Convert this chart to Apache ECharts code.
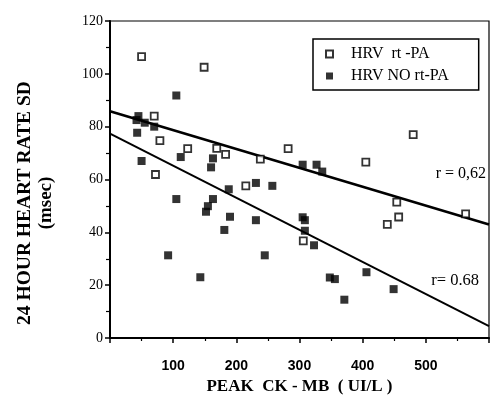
<!DOCTYPE html>
<html>
<head>
<meta charset="utf-8">
<script src="https://cdn.jsdelivr.net/npm/echarts@6/dist/echarts.min.js"></script>
<style>
html,body{margin:0;padding:0;background:#fff;}
#chart{width:493px;height:400px;}
</style>
</head>
<body>
<div id="chart"></div>
<script>
// Data (x = peak CK-MB UI/L, y = 24h HR SD msec)
var rtPA = [
  [50,106.5],[149,102.5],[70,84],[79,74.7],[123,71.7],[169,71.8],[183,69.5],
  [72,61.9],[215,57.6],[238,67.7],[282,71.7],[306,36.8],[405,66.6],[480,77],
  [454,51.4],[457,45.8],[439,43],[563,47]
];
var noRtPA = [
  [105,91.8],[45,84],[42,82.5],[55,81.5],[70,80],[43,77.7],[50,67],[112,68.5],
  [163,68],[160,64.6],[305,65.6],[327,65.6],[336,63],[105,52.6],[163,52.6],
  [155,49.9],[152,47.8],[190,45.9],[181,40.9],[92,31.3],[143,23],[188,56.3],
  [231,58.7],[257,57.6],[231,44.6],[245,31.3],[305,45.7],[308.5,44.6],
  [308.5,40.6],[323,35.1],[348,22.9],[356,22.3],[371,14.5],[406,24.9],[449,18.5]
];
var fitRtPA = [[0,85.8],[600,43]];
var fitNoRtPA = [[0,77.4],[600,4.5]];
var xTickLabels = [100,200,300,400,500];
var yTicks = [0,20,40,60,80,100,120];
var seriesNames = ['HRV  rt -PA','HRV NO rt-PA'];
var rLabels = ['r = 0,62','r= 0.68'];

var serif = '"Liberation Serif","Times New Roman",serif';
var sans = '"Liberation Sans",Arial,sans-serif';

var chart = echarts.init(document.getElementById('chart'), null, {renderer:'canvas'});
chart.setOption({
  animation:false,
  backgroundColor:'#fff',
  grid:{left:110,right:4,top:21,bottom:62,show:true,borderColor:'#000',borderWidth:1.2,backgroundColor:'transparent'},
  legend:{
    left:313, top:39, orient:'vertical',
    data:[{name:seriesNames[0]},{name:seriesNames[1]}],
    icon:'rect', itemWidth:7, itemHeight:7, itemGap:6,
    borderColor:'#000', borderWidth:1.5,
    padding:[7,30,6,12],
    textStyle:{fontFamily:serif,fontSize:16,color:'#000',padding:[0,0,0,13]}
  },
  xAxis:{
    type:'value', min:0, max:600, interval:100,
    axisLine:{show:true,onZero:false,lineStyle:{color:'#000',width:2}},
    axisTick:{show:true,inside:false,length:5,lineStyle:{color:'#000',width:1.5}},
    minorTick:{show:true,splitNumber:2,length:3,lineStyle:{color:'#000',width:1.2}},
    splitLine:{show:false},
    axisLabel:{margin:21,fontFamily:sans,fontSize:14,fontWeight:'bold',color:'#000',
      formatter:function(v){return xTickLabels.indexOf(v)>=0?String(v):'';}},
    name:'PEAK  CK - MB  ( UI/L )', nameLocation:'middle', nameGap:39,
    nameTextStyle:{fontFamily:serif,fontSize:17,fontWeight:'bold',color:'#000'}
  },
  yAxis:{
    type:'value', min:0, max:120, interval:20,
    axisLine:{show:true,lineStyle:{color:'#000',width:2}},
    axisTick:{show:true,inside:false,length:5,lineStyle:{color:'#000',width:1.5}},
    minorTick:{show:true,splitNumber:2,length:4,lineStyle:{color:'#000',width:1.2}},
    splitLine:{show:false},
    axisLabel:{margin:7,fontFamily:serif,fontSize:14,color:'#000',
      formatter:function(v){return yTicks.indexOf(v)>=0?String(v):'';}}
  },
  graphic:[
    {type:'text',
     style:{text:'24 HOUR HEART RATE SD',font:'bold 19.5px '+serif,fill:'#000',textAlign:'center',textVerticalAlign:'middle'},
     x:25,y:203,rotation:Math.PI/2},
    {type:'text',
     style:{text:'(msec)',font:'bold 19px '+serif,fill:'#000',textAlign:'center',textVerticalAlign:'middle'},
     x:46,y:203,rotation:Math.PI/2},
    {type:'text',style:{text:rLabels[0],font:'16px '+serif,fill:'#000',textAlign:'right',textVerticalAlign:'middle'},x:486,y:174},
    {type:'text',style:{text:rLabels[1],font:'16.5px '+serif,fill:'#000',textAlign:'right',textVerticalAlign:'middle'},x:479,y:281}
  ],
  series:[
    {name:'fit1',type:'line',data:fitRtPA,symbol:'none',lineStyle:{color:'#000',width:2.6},z:2,silent:true},
    {name:'fit2',type:'line',data:fitNoRtPA,symbol:'none',lineStyle:{color:'#000',width:2},z:2,silent:true},
    {name:seriesNames[0],type:'scatter',data:rtPA,symbol:'rect',symbolSize:7,
     itemStyle:{color:'#fff',borderColor:'#000',borderWidth:1.8},z:3},
    {name:seriesNames[1],type:'scatter',data:noRtPA,symbol:'rect',symbolSize:8,
     itemStyle:{color:'#000',borderColor:'#000',borderWidth:0},z:4}
  ]
});
</script>
</body>
</html>
